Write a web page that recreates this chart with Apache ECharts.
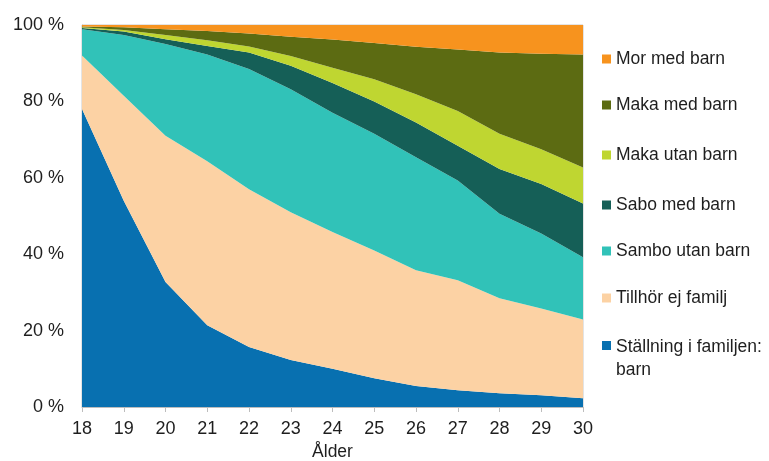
<!DOCTYPE html>
<html>
<head>
<meta charset="utf-8">
<script src="https://cdn.jsdelivr.net/npm/echarts@6/dist/echarts.min.js"></script>
<style>
html,body{margin:0;padding:0;background:#fff;}
#main{width:769px;height:461px;}
</style>
</head>
<body>
<div id="main"></div>
<script>
const ages = ['18','19','20','21','22','23','24','25','26','27','28','29','30'];
const yTicks = [0, 20, 40, 60, 80, 100];

const barn       = [78, 54, 32.7, 21.4, 15.7, 12.3, 10, 7.5, 5.5, 4.4, 3.6, 3.1, 2.3];
const tillhorEj  = [14, 27.5, 38.3, 42.9, 41.3, 38.7, 35.8, 33.5, 30.3, 28.8, 24.9, 22.7, 20.6];
const samboUtan  = [6.9, 15.9, 24, 28, 31.5, 32.2, 31.2, 30.5, 29.6, 26.1, 22.1, 19.6, 16.3];
const saboMed    = [0.3, 0.9, 1.3, 2.2, 4.3, 6.1, 7.8, 8.5, 9.1, 9.1, 11.7, 13, 14.1];
const makaUtan   = [0.2, 0.4, 1.1, 1.5, 1.6, 2.6, 4, 5.8, 7.4, 9.1, 9.2, 9.1, 9.4];
const makaMed    = [0.2, 0.7, 1.5, 2.4, 3.4, 5, 7.4, 9.5, 12.4, 16.1, 21.3, 25, 29.6];
const morMed     = [0.4, 0.6, 1.1, 1.6, 2.2, 3.1, 3.8, 4.7, 5.7, 6.4, 7.2, 7.5, 7.7];

const seriesNames = ['Ställning i familjen: barn', 'Tillhör ej familj', 'Sambo utan barn', 'Sabo med barn', 'Maka utan barn', 'Maka med barn', 'Mor med barn'];
const seriesData = [barn, tillhorEj, samboUtan, saboMed, makaUtan, makaMed, morMed];
const colors = ['#0870b0', '#fcd2a4', '#31c2b8', '#155f57', '#bfd631', '#5c6b12', '#f7931e'];

const chart = echarts.init(document.getElementById('main'), null, {renderer: 'canvas'});
const font = 'Liberation Sans, Arial, sans-serif';
const txt = '#1e1e1e';

const legendTops = [42.5, 88.5, 138.5, 188.5, 234.5, 281.5, 330.5];
const legends = seriesNames.slice().reverse().map((n, i) => {
  const twoLine = n.indexOf(': ') >= 0;
  return {
    data: [n],
    orient: 'vertical',
    left: 597,
    top: legendTops[i],
    itemWidth: 9,
    itemHeight: twoLine ? 35 : 9,
    itemGap: 0,
    icon: twoLine ? 'path://M0,0L9,0L9,9L0,9Z M0,35L0.01,35L0.01,35.01Z' : 'rect',
    selectedMode: false,
    formatter: name => name.replace(': ', ':\n'),
    textStyle: {fontFamily: font, fontSize: 17.5, color: txt, lineHeight: 23}
  };
});

chart.setOption({
  animation: false,
  color: colors,
  grid: {left: 82, right: 186, top: 25, bottom: 54, outerBoundsMode: 'none', containLabel: false, show: true, borderColor: '#c8c8c8', borderWidth: 1},
  legend: legends,
  xAxis: {
    type: 'category',
    data: ages,
    boundaryGap: false,
    name: 'Ålder',
    nameLocation: 'middle',
    nameGap: 27,
    nameTextStyle: {fontFamily: font, fontSize: 17.5, color: txt},
    axisLine: {lineStyle: {color: '#bdbdbd'}},
    axisTick: {show: true, length: 5, lineStyle: {color: '#bdbdbd'}},
    axisLabel: {fontFamily: font, fontSize: 18, color: txt, margin: 13},
    splitLine: {show: false}
  },
  yAxis: {
    type: 'value',
    min: yTicks[0],
    max: yTicks[yTicks.length - 1],
    interval: 20,
    axisLine: {show: true, lineStyle: {color: '#bdbdbd'}},
    axisTick: {show: false},
    splitLine: {show: false},
    axisLabel: {fontFamily: font, fontSize: 18, color: txt, margin: 18, formatter: v => v + ' %'}
  },
  series: seriesNames.map((n, i) => ({
    name: n,
    type: 'line',
    stack: 'total',
    data: seriesData[i],
    showSymbol: false,
    symbol: 'none',
    lineStyle: {width: 0},
    areaStyle: {color: colors[i], opacity: 1},
    itemStyle: {color: colors[i]},
    emphasis: {disabled: true}
  }))
});
</script>
</body>
</html>
